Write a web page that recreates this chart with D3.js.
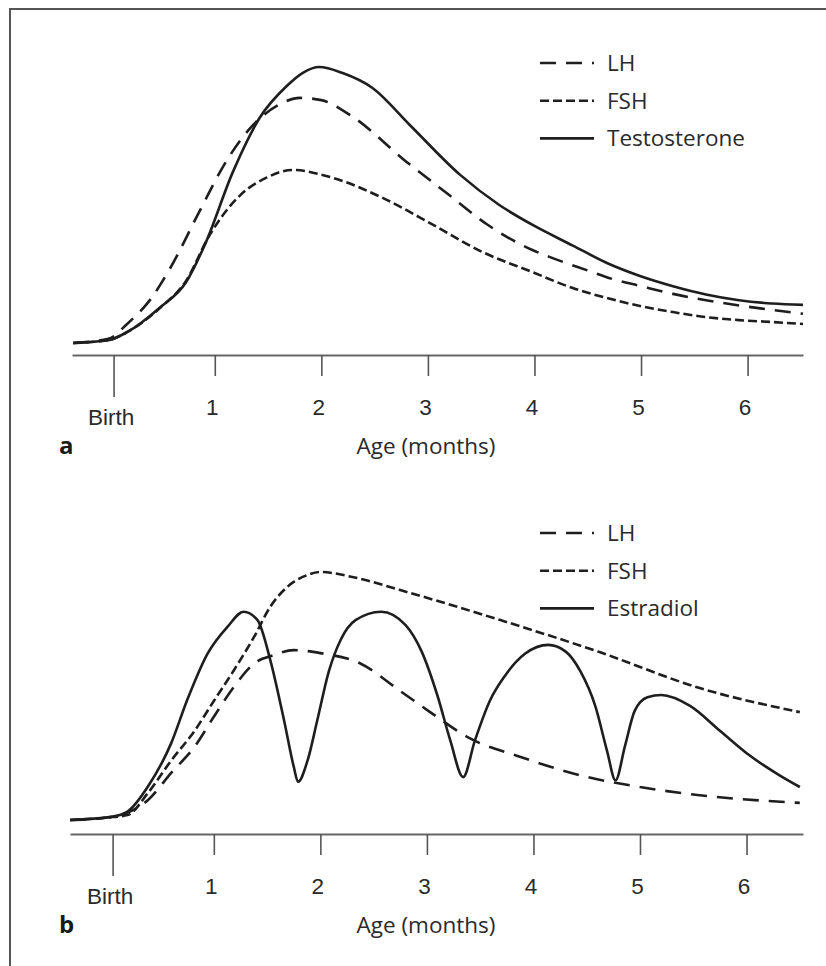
<!DOCTYPE html>
<html>
<head>
<meta charset="utf-8">
<script src="https://cdn.jsdelivr.net/npm/d3@7"></script>
<style>
  body { margin: 0; background: #fff; }
  svg { display: block; font-family: "Open Sans", "Noto Sans", sans-serif; }
</style>
</head>
<body>
<svg id="chart" width="826" height="966"></svg>
<script>
// month ticks shared by both panels
const tickMonths = [1, 2, 3, 4, 5, 6];
const birthMonth = 0.05;

// panel a: [month, relative level]
const lhA = [[-0.33,0],[0,1.5],[0.18,7],[0.4,16],[0.58,27],[0.86,48],[1.11,66],[1.36,79],[1.61,86.5],[1.8,88.8],[2.0,88],[2.27,82.6],[2.8,65.6],[3.2,53.6],[3.55,43.1],[3.98,33.7],[4.14,31.2],[4.49,26.4],[4.73,23.2],[4.99,20.7],[5.3,17.8],[5.61,15.5],[5.92,13.6],[6.23,12],[6.52,10.6]];
const fshA = [[-0.33,0],[0,1],[0.18,4],[0.48,12.5],[0.73,22.5],[0.95,39],[1.24,53.6],[1.49,60],[1.73,62.7],[2.11,59.8],[2.58,52.5],[3.05,42.8],[3.51,33],[3.98,25.7],[4.36,19.9],[4.68,16.3],[4.99,13.4],[5.3,11.2],[5.61,9.4],[5.92,8.3],[6.23,7.6],[6.52,6.9]];
const testoA = [[-0.33,0],[0,1],[0.18,4],[0.48,12.7],[0.73,22],[0.91,35.9],[1.17,62],[1.42,81.5],[1.675,93.1],[1.83,98],[1.98,100],[2.2,97.8],[2.48,92.4],[2.83,79],[3.3,61],[3.67,50],[4.0,42.4],[4.36,35.3],[4.68,29],[4.99,24.3],[5.3,20.6],[5.61,17.6],[5.92,15.5],[6.23,14.3],[6.52,13.8]];

// panel b
const lhB = [[-0.35,0],[0,1],[0.19,3],[0.38,8],[0.6,19],[0.82,29.6],[1.0,41.6],[1.19,53.8],[1.38,63.2],[1.56,66.5],[1.75,68.5],[2.0,67.3],[2.38,63],[2.75,52],[3.03,43.5],[3.4,33],[3.88,25.4],[4.44,18],[5.0,13.3],[5.56,10],[6.5,6.9]];
const fshB = [[-0.35,0],[0,1],[0.19,2],[0.38,10.8],[0.6,24],[0.82,36],[1.0,48],[1.19,60.5],[1.38,74],[1.53,86],[1.69,94],[1.88,98.8],[2.0,100],[2.3,98],[2.75,92.7],[3.69,80.6],[4.62,67.7],[5.56,53.2],[6.5,43.5]];
const estradiolB = [[-0.35,0],[0.04,1.3],[0.19,3.4],[0.38,13.4],[0.6,31],[0.75,48.4],[0.94,67],[1.13,78],[1.28,84],[1.41,80.6],[1.53,64.5],[1.66,40],[1.75,21.5],[1.79,15.4],[1.88,24],[1.97,40],[2.08,60],[2.19,72.6],[2.33,80.6],[2.57,84],[2.8,78.6],[2.95,68],[3.1,50],[3.22,32],[3.34,17.3],[3.45,32],[3.59,48],[3.73,58],[3.92,67],[4.14,70.6],[4.3,68],[4.44,60],[4.58,46],[4.69,28],[4.77,16],[4.86,30],[4.95,44],[5.07,49.5],[5.2,50.4],[5.47,46],[5.75,36],[6.03,26],[6.31,18],[6.5,13.3]];

const legendA = ["LH", "FSH", "Testosterone"];
const legendB = ["LH", "FSH", "Estradiol"];

const ink = "#1e1e1e";
const dashes = { LH: "16,10", FSH: "9,4" };

const svg = d3.select("#chart");

// outer frame (top and left edges)
svg.append("path")
  .attr("d", "M10,966 V9 H826")
  .attr("fill", "none")
  .attr("stroke", "#555")
  .attr("stroke-width", 2);

function drawPanel(cfg) {
  const x = d3.scaleLinear().domain(cfg.xDomain).range(cfg.xRange);
  const y = d3.scaleLinear().domain([0, 100]).range(cfg.yRange);
  const g = svg.append("g");

  // axis
  const axis = d3.axisBottom(x)
    .tickValues([birthMonth].concat(tickMonths))
    .tickSize(21)
    .tickSizeOuter(0)
    .tickPadding(0)
    .tickFormat(d => d === birthMonth ? "Birth" : d);
  const ax = g.append("g")
    .attr("transform", `translate(0,${cfg.axisY})`)
    .call(axis);
  ax.select(".domain").attr("stroke", "#666").attr("stroke-width", 2);
  ax.selectAll(".tick line").attr("stroke", "#555").attr("stroke-width", 1.6);
  ax.selectAll(".tick text")
    .attr("fill", "#2a2a2a")
    .attr("font-size", 22.5)
    .attr("x", -3)
    .attr("y", 60)
    .attr("dy", 0);
  ax.selectAll(".tick").filter(d => d === birthMonth)
    .each(function() {
      d3.select(this).select("line").attr("y2", 42);
      d3.select(this).select("text").attr("y", 70);
    });

  g.append("text")
    .attr("x", 426)
    .attr("y", cfg.axisY + 99)
    .attr("text-anchor", "middle")
    .attr("font-size", 22.5)
    .attr("fill", "#2a2a2a")
    .text("Age (months)");

  g.append("text")
    .attr("x", 59)
    .attr("y", cfg.axisY + 99)
    .attr("font-size", 24)
    .attr("font-weight", "bold")
    .attr("fill", "#1a1a1a")
    .text(cfg.label);

  // curves
  const line = d3.line()
    .x(d => x(d[0]))
    .y(d => y(d[1]))
    .curve(d3.curveMonotoneX);

  cfg.series.forEach(s => {
    g.append("path")
      .datum(s.values)
      .attr("d", line)
      .attr("fill", "none")
      .attr("stroke", ink)
      .attr("stroke-width", 2.6)
      .attr("stroke-dasharray", dashes[s.name] || null);
  });

  // legend
  const lg = g.append("g");
  cfg.legend.forEach((name, i) => {
    const ly = cfg.legendY + i * 37.7;
    lg.append("line")
      .attr("x1", 540).attr("x2", 594)
      .attr("y1", ly).attr("y2", ly)
      .attr("stroke", ink)
      .attr("stroke-width", 2.6)
      .attr("stroke-dasharray", dashes[name] || null);
    lg.append("text")
      .attr("x", 607)
      .attr("y", ly + 8)
      .attr("font-size", 22.5)
      .attr("fill", "#2a2a2a")
      .text(name);
  });
}

drawPanel({
  label: "a",
  xDomain: [-0.34, 6.52], xRange: [72, 803],
  yRange: [343, 67],
  axisY: 355,
  legendY: 63,
  legend: legendA,
  series: [
    { name: "LH", values: lhA },
    { name: "FSH", values: fshA },
    { name: "Testosterone", values: testoA }
  ]
});

drawPanel({
  label: "b",
  xDomain: [-0.35, 6.53], xRange: [70, 803],
  yRange: [820, 572],
  axisY: 834,
  legendY: 533,
  legend: legendB,
  series: [
    { name: "LH", values: lhB },
    { name: "FSH", values: fshB },
    { name: "Estradiol", values: estradiolB }
  ]
});
</script>
</body>
</html>
